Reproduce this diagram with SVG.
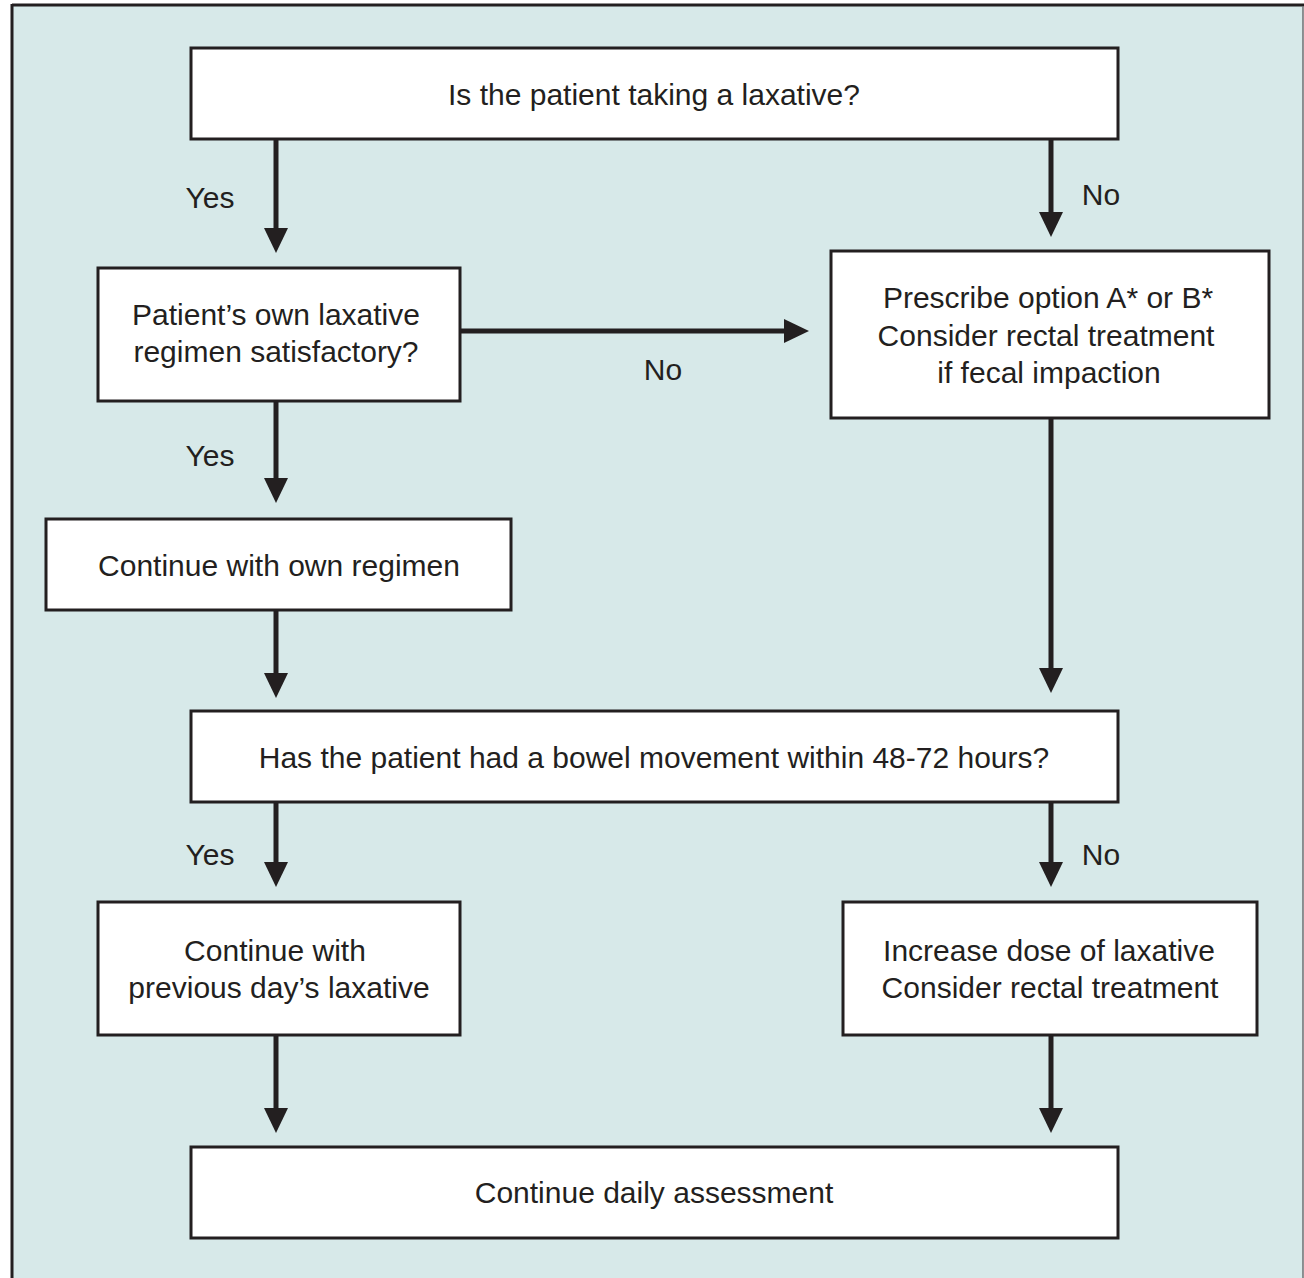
<svg xmlns="http://www.w3.org/2000/svg" width="1304" height="1278" viewBox="0 0 1304 1278">
<defs>
<style>
.box{fill:#ffffff;stroke:#231f20;stroke-width:3}
.t{font-family:"Liberation Sans",Arial,Helvetica,sans-serif;font-size:30px;fill:#231f20;text-anchor:middle}
.c{fill:none;stroke:#231f20;stroke-width:5;marker-end:url(#ah)}
</style>
<marker id="ah" markerUnits="userSpaceOnUse" markerWidth="26" markerHeight="26" refX="0" refY="12" orient="auto" viewBox="0 0 26 24">
<path d="M0,0 L25,12 L0,24 z" fill="#231f20"/>
</marker>
</defs>
<rect x="0" y="0" width="1304" height="1278" fill="#ffffff"/>
<rect x="12" y="5" width="1291" height="1280" fill="#d7e9e9"/>
<line x1="12" y1="5" x2="1304" y2="5" stroke="#231f20" stroke-width="3"/>
<line x1="12" y1="4" x2="12" y2="1278" stroke="#231f20" stroke-width="3"/>
<line x1="1303" y1="6" x2="1303" y2="1278" stroke="#6d6e70" stroke-width="1.5"/>
<g id="connectors">
<path class="c" d="M276,139 V228"/>
<path class="c" d="M1051,139 V212"/>
<path class="c" d="M460,331 H784"/>
<path class="c" d="M1051,418 V668"/>
<path class="c" d="M276,401 V478"/>
<path class="c" d="M276,610 V673"/>
<path class="c" d="M276,802 V862"/>
<path class="c" d="M1051,802 V862"/>
<path class="c" d="M276,1035 V1108"/>
<path class="c" d="M1051,1035 V1108"/>
<text class="t" x="210" y="208">Yes</text>
<text class="t" x="1101" y="205">No</text>
<text class="t" x="663" y="380">No</text>
<text class="t" x="210" y="466">Yes</text>
<text class="t" x="210" y="865">Yes</text>
<text class="t" x="1101" y="865">No</text>
</g>
<g id="n1"><rect class="box" x="191" y="48" width="927" height="91"/><text class="t" x="654" y="105">Is the patient taking a laxative?</text></g>
<g id="n2"><rect class="box" x="98" y="268" width="362" height="133"/><text class="t" x="276" y="325">Patient’s own laxative</text><text class="t" x="276" y="362">regimen satisfactory?</text></g>
<g id="n3"><rect class="box" x="831" y="251" width="438" height="167"/><text class="t" x="1048" y="308">Prescribe option A* or B*</text><text class="t" x="1046" y="346">Consider rectal treatment</text><text class="t" x="1049" y="383">if fecal impaction</text></g>
<g id="n4"><rect class="box" x="46" y="519" width="465" height="91"/><text class="t" x="279" y="576">Continue with own regimen</text></g>
<g id="n5"><rect class="box" x="191" y="711" width="927" height="91"/><text class="t" x="654" y="768">Has the patient had a bowel movement within 48-72 hours?</text></g>
<g id="n6"><rect class="box" x="98" y="902" width="362" height="133"/><text class="t" x="275" y="961">Continue with</text><text class="t" x="279" y="998">previous day’s laxative</text></g>
<g id="n7"><rect class="box" x="843" y="902" width="414" height="133"/><text class="t" x="1049" y="961">Increase dose of laxative</text><text class="t" x="1050" y="998">Consider rectal treatment</text></g>
<g id="n8"><rect class="box" x="191" y="1147" width="927" height="91"/><text class="t" x="654" y="1203">Continue daily assessment</text></g>
</svg>
